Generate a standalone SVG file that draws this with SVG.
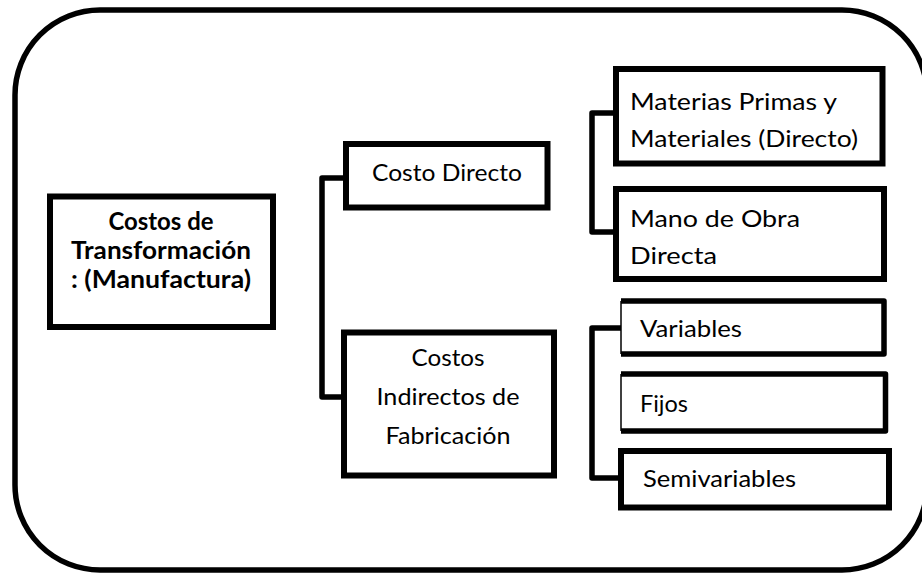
<svg xmlns="http://www.w3.org/2000/svg" width="922" height="573" viewBox="0 0 922 573">
<style>
  .box { fill: #ffffff; stroke: #000000; stroke-width: 6; }
  .thin { fill: none; stroke: #000000; stroke-width: 1.5; }
  .edge { fill: none; stroke: #000000; stroke-width: 5.5; stroke-linejoin: round; }
  .t { font-family: Lato, "Liberation Sans", sans-serif; font-size: 23px; fill: #000000; }
  .c { text-anchor: middle; }
  .b { font-weight: bold; font-size: 25px; }
</style>
<rect x="0" y="0" width="922" height="573" fill="#ffffff"/>
<rect id="frame" x="15" y="10" width="912" height="560" rx="85" ry="85" fill="none" stroke="#000" stroke-width="5.5"/>
<g id="connectors">
  <path class="edge" d="M346,178 H322 V397 H344"/>
  <path class="edge" d="M616,113 H592 V232 H616"/>
  <path class="edge" d="M621,328 H592 V478 H621"/>
</g>
<g id="n-main">
  <rect class="box" x="50" y="196.5" width="223" height="130.5"/>
  <text class="t c b" x="161" y="230" textLength="105" lengthAdjust="spacingAndGlyphs">Costos de</text>
  <text class="t c b" x="161" y="259" textLength="180" lengthAdjust="spacingAndGlyphs">Transformación</text>
  <text class="t c b" x="161" y="288" textLength="180" lengthAdjust="spacingAndGlyphs">: (Manufactura)</text>
</g>
<g id="n-directo">
  <rect class="box" x="346" y="144" width="201.5" height="63.5"/>
  <text class="t" x="372" y="181" textLength="150" lengthAdjust="spacingAndGlyphs">Costo Directo</text>
</g>
<g id="n-indirectos">
  <rect class="box" x="344" y="332.5" width="210" height="143"/>
  <text class="t c" x="448" y="366" textLength="73" lengthAdjust="spacingAndGlyphs">Costos</text>
  <text class="t c" x="448" y="405" textLength="143" lengthAdjust="spacingAndGlyphs">Indirectos de</text>
  <text class="t c" x="448" y="444" textLength="125" lengthAdjust="spacingAndGlyphs">Fabricación</text>
</g>
<g id="n-materias">
  <rect class="box" x="616" y="69" width="266.5" height="94.5"/>
  <text class="t" x="630" y="110" textLength="207" lengthAdjust="spacingAndGlyphs">Materias Primas y</text>
  <text class="t" x="630" y="147" textLength="228" lengthAdjust="spacingAndGlyphs">Materiales (Directo)</text>
</g>
<g id="n-mano">
  <rect class="box" x="616" y="189" width="268" height="90"/>
  <text class="t" x="630" y="227" textLength="170" lengthAdjust="spacingAndGlyphs">Mano de Obra</text>
  <text class="t" x="630" y="264" textLength="87" lengthAdjust="spacingAndGlyphs">Directa</text>
</g>
<g id="n-variables">
  <path class="edge" d="M621,301 H884 V354 H621"/>
  <line class="thin" x1="621" y1="301" x2="621" y2="354"/>
  <text class="t" x="640" y="337" textLength="102" lengthAdjust="spacingAndGlyphs">Variables</text>
</g>
<g id="n-fijos">
  <path class="edge" d="M621,374 H885.5 V431 H621"/>
  <line class="thin" x1="621" y1="374" x2="621" y2="431"/>
  <text class="t" x="640" y="412" textLength="48" lengthAdjust="spacingAndGlyphs">Fijos</text>
</g>
<g id="n-semivariables">
  <rect class="box" x="621" y="451" width="268" height="56.5"/>
  <text class="t" x="643" y="487" textLength="153" lengthAdjust="spacingAndGlyphs">Semivariables</text>
</g>
</svg>
